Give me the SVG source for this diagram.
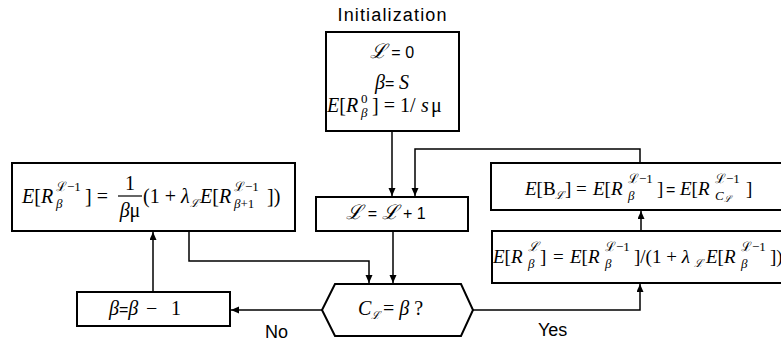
<svg xmlns="http://www.w3.org/2000/svg" width="781" height="342" viewBox="0 0 781 342">
<defs>
<marker id="ah" markerUnits="userSpaceOnUse" markerWidth="9" markerHeight="8" refX="8" refY="3.5" orient="auto">
<path d="M0,0 L8,3.5 L0,7 z" fill="#000"/>
</marker>
<style>
.box{fill:#fff;stroke:#000;stroke-width:2}
.con{fill:none;stroke:#000;stroke-width:1.5;marker-end:url(#ah)}
.m{font-family:"Liberation Serif","DejaVu Serif",serif;font-size:20px;fill:#000}
.r{font-size:19px}
.i{font-style:italic}
.s{font-size:13px}
.t{font-size:11px}
.c{font-family:"Liberation Sans","DejaVu Sans",sans-serif;font-size:16px}
.lab{font-family:"Liberation Sans","DejaVu Sans",sans-serif;font-size:18px;fill:#000}
</style>
</defs>
<rect width="781" height="342" fill="#fff"/>

<g id="connectors">
<path class="con" d="M392,131 V196"/>
<path class="con" d="M640,163 V149 H415 V196"/>
<path class="con" d="M393,231 V283"/>
<path class="con" d="M189,231 V261 H369 V283"/>
<path class="con" d="M322,310 H231"/>
<path class="con" d="M153,292 V232"/>
<path class="con" d="M473,310 H640 V284"/>
<path class="con" d="M641,231 V211"/>
</g>

<g id="init">
<text class="lab" x="392" y="21" text-anchor="middle" textLength="109">Initialization</text>
<rect class="box" x="326" y="32" width="133" height="99"/>
<text class="m" x="392" y="58" text-anchor="middle"><tspan class="i">ℒ</tspan><tspan class="c"> = 0</tspan></text>
<text class="m" x="392" y="89" text-anchor="middle"><tspan class="i">β</tspan><tspan class="c">= </tspan><tspan class="i">S</tspan></text>
<text class="m"><tspan x="327" y="112"><tspan class="i">E</tspan>[<tspan class="i">R</tspan></tspan><tspan class="s" x="361" y="103">0</tspan><tspan class="s i" x="361" y="117">β</tspan><tspan x="372" y="112">] = 1/</tspan><tspan class="i" x="421" y="112">s</tspan><tspan x="431" y="112">μ</tspan></text>
</g>

<g id="incL">
<rect class="box" x="316" y="197" width="152" height="34"/>
<text class="m" x="386" y="219" text-anchor="middle"><tspan class="i">ℒ</tspan><tspan class="c"> = </tspan><tspan class="i">ℒ</tspan><tspan class="c"> + 1</tspan></text>
</g>

<g id="leftFormula">
<rect class="box" x="12" y="163" width="283" height="68"/>
<text class="m">
<tspan x="22" y="203"><tspan class="i">E</tspan>[<tspan class="i">R</tspan></tspan><tspan class="s" x="56" y="191">ℒ−1</tspan><tspan class="s i" x="56" y="208">β</tspan><tspan x="85" y="203">] =</tspan>
<tspan x="143" y="203">(1 + <tspan class="i">λ</tspan></tspan><tspan class="t i" x="190" y="207">ℒ</tspan><tspan x="200" y="203"><tspan class="i">E</tspan>[<tspan class="i">R</tspan></tspan><tspan class="s" x="234" y="191">ℒ−1</tspan><tspan class="s" x="234" y="208"><tspan class="i">β</tspan>+1</tspan><tspan x="267" y="203">])</tspan>
</text>
<text class="m" x="130" y="190" text-anchor="middle">1</text>
<text class="m i" x="130" y="217" text-anchor="middle">β<tspan font-style="normal">μ</tspan></text>
<line x1="118" y1="196" x2="142" y2="196" stroke="#000" stroke-width="1.2"/>
</g>

<g id="decB">
<rect class="box" x="77" y="292" width="153" height="34"/>
<text class="m"><tspan x="109" y="315"><tspan class="i">β</tspan><tspan class="c">=</tspan><tspan class="i">β</tspan></tspan><tspan x="146" y="315">−</tspan><tspan x="171" y="315">1</tspan></text>
</g>

<g id="decision">
<polygon class="box" points="335,284 461,284 473,310 461,336 335,336 322,310"/>
<text class="m"><tspan class="i" x="358" y="315">C</tspan><tspan class="t i" x="371" y="319">ℒ</tspan><tspan x="383" y="315">= <tspan class="i">β</tspan> ?</tspan></text>
</g>

<g id="labels">
<text class="lab" x="265" y="338">No</text>
<text class="lab" x="538" y="336">Yes</text>
</g>

<g id="busy">
<rect class="box" x="491" y="163" width="300" height="47"/>
<text class="m r">
<tspan x="525" y="195"><tspan class="i">E</tspan>[B</tspan><tspan class="t i" x="555" y="199">ℒ</tspan><tspan x="565" y="195">]</tspan><tspan x="576" y="195">=</tspan><tspan x="593" y="195"><tspan class="i">E</tspan>[<tspan class="i">R</tspan></tspan><tspan class="s" x="628" y="183">ℒ−1</tspan><tspan class="s i" x="628" y="200">β</tspan><tspan x="657" y="195">]</tspan><tspan class="c" x="666" y="195">=</tspan><tspan x="680" y="195"><tspan class="i">E</tspan>[<tspan class="i">R</tspan></tspan><tspan class="s" x="715" y="183">ℒ−1</tspan><tspan class="s i" x="715" y="200">C</tspan><tspan class="i" font-size="9px" x="724" y="202">ℒ</tspan><tspan x="746" y="195">]</tspan>
</text>
</g>

<g id="update">
<rect class="box" x="492" y="231" width="300" height="52"/>
<text class="m r">
<tspan x="493" y="263"><tspan class="i">E</tspan>[<tspan class="i">R</tspan></tspan><tspan class="s i" x="528" y="251">ℒ</tspan><tspan class="s i" x="528" y="268">β</tspan><tspan x="540" y="263">]</tspan><tspan x="553" y="263">=</tspan><tspan x="570" y="263"><tspan class="i">E</tspan>[<tspan class="i">R</tspan></tspan><tspan class="s" x="605" y="251">ℒ−1</tspan><tspan class="s i" x="605" y="268">β</tspan><tspan x="634" y="263">]/(1 + <tspan class="i">λ</tspan></tspan><tspan class="t i" x="694" y="267">ℒ</tspan><tspan x="706" y="263"><tspan class="i">E</tspan>[<tspan class="i">R</tspan></tspan><tspan class="s" x="741" y="251">ℒ−1</tspan><tspan class="s i" x="741" y="268">β</tspan><tspan x="770" y="263">])</tspan>
</text>
</g>
</svg>
